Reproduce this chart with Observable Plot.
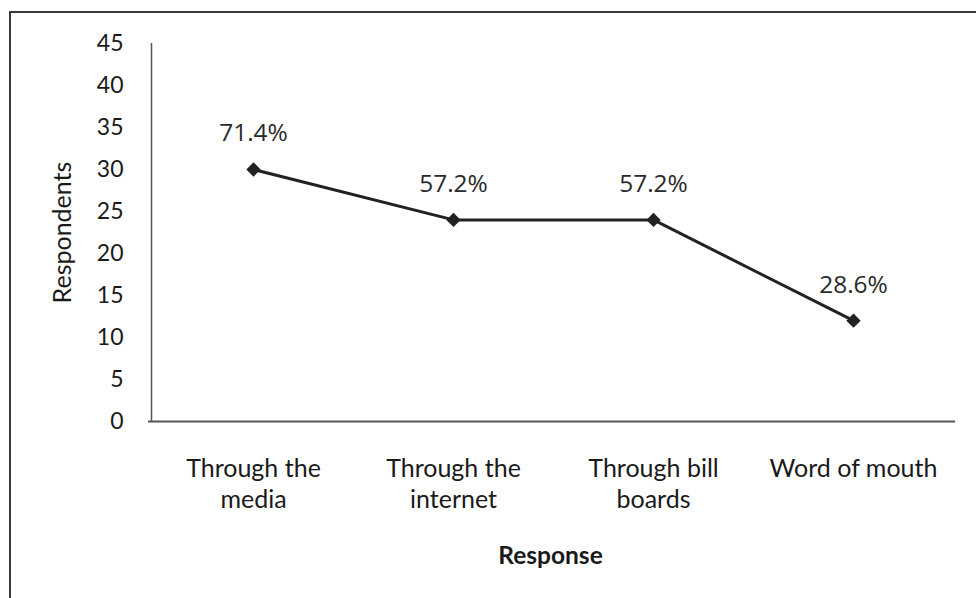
<!DOCTYPE html>
<html>
<head>
<meta charset="utf-8">
<script src="https://cdn.jsdelivr.net/npm/d3@7"></script>
<script src="https://cdn.jsdelivr.net/npm/@observablehq/plot@0.6"></script>
<style>
  html, body { margin: 0; padding: 0; background: #fff; overflow: hidden; }
  #wrap { position: relative; width: 976px; height: 598px; }
  #frame {
    position: absolute; left: 9px; top: 11px; width: 1000px; height: 640px;
    border-left: 2px solid #3a3a3a; border-top: 2px solid #3a3a3a;
    pointer-events: none;
  }
  #chart { position: absolute; left: 0; top: 0; }
</style>
</head>
<body>
<div id="wrap">
  <div id="chart"></div>
  <div id="frame"></div>
</div>
<script>
// How respondents heard about it
const responses = ["Through the\nmedia", "Through the\ninternet", "Through bill\nboards", "Word of mouth"];
const respondents = [30, 24, 24, 12];
const shares = ["71.4%", "57.2%", "57.2%", "28.6%"];
const yTicks = [0, 5, 10, 15, 20, 25, 30, 35, 40, 45];

const rows = responses.map((r, i) => ({response: r, count: respondents[i], share: shares[i]}));

const font = "Lato, 'Open Sans', sans-serif";

const chart = Plot.plot({
  width: 976,
  height: 598,
  marginLeft: 153,
  marginRight: 23,
  marginTop: 43,
  marginBottom: 177,
  style: {fontFamily: font, color: "#1a1a1a", background: "transparent"},
  x: {type: "band", domain: responses, padding: 0},
  y: {domain: [0, 45]},
  marks: [
    Plot.axisY({
      ticks: yTicks, tickSize: 0, tickPadding: 30, fontSize: 23,
      label: null
    }),
    Plot.axisX({
      tickSize: 0, tickPadding: 33, fontSize: 25, lineHeight: 1.24,
      label: null
    }),
    Plot.text(["Respondents"], {
      frameAnchor: "left", dx: -91, rotate: -90, textAnchor: "middle",
      lineAnchor: "middle", fontSize: 25, fill: "#1a1a1a"
    }),
    Plot.text(["Response"], {
      frameAnchor: "bottom", dy: 135, dx: -3, lineAnchor: "middle",
      fontSize: 24.5, fontWeight: "bold", fill: "#1a1a1a"
    }),
    Plot.ruleX([0], {x: () => responses[0], dx: -102, y1: 0, y2: 45, stroke: "#555", strokeWidth: 1.5}),
    Plot.ruleY([0], {stroke: "#555", strokeWidth: 2, insetLeft: -5, insetRight: -2}),
    Plot.line(rows, {x: "response", y: "count", stroke: "#222", strokeWidth: 3}),
    Plot.dot(rows, {x: "response", y: "count", symbol: "diamond2", r: 5.5, fill: "#222", stroke: "#222"}),
    Plot.text(rows, {
      x: "response", y: "count", text: "share", dy: -36,
      fontSize: 24.5, fill: "#2a2a2a", fontFamily: "'Open Sans', sans-serif"
    })
  ]
});

document.getElementById("chart").append(chart);
</script>
</body>
</html>
